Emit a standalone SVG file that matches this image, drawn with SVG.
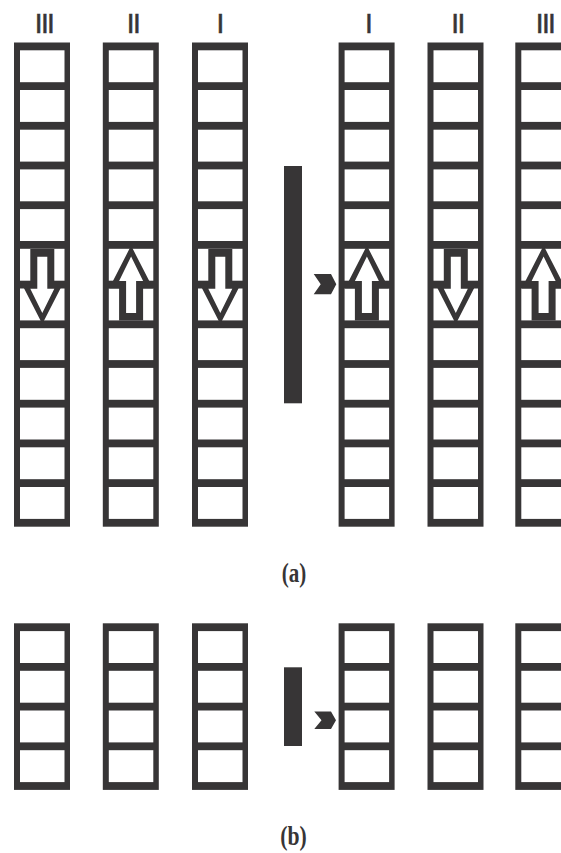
<svg xmlns="http://www.w3.org/2000/svg" xmlns:xlink="http://www.w3.org/1999/xlink" width="561" height="853" viewBox="0 0 561 853">
<style>
.ink{fill:#373536}
.paper{fill:#ffffff}
.num{font-family:"Liberation Sans",Arial,sans-serif;font-size:28px;fill:#373536;stroke:#373536;stroke-width:0.5;text-anchor:middle;letter-spacing:-1.6px}
.cap{font-family:"Liberation Serif","Times New Roman",serif;font-size:27px;font-weight:bold;fill:#373536;text-anchor:middle}
</style>
<defs>
<g id="col12">
<rect class="ink" x="0" y="0" width="56" height="484.2"/>
<rect class="paper" x="6" y="7.8" width="44.5" height="31.9"/>
<rect class="paper" x="6" y="47.5" width="44.5" height="31.9"/>
<rect class="paper" x="6" y="87.2" width="44.5" height="31.9"/>
<rect class="paper" x="6" y="126.9" width="44.5" height="31.9"/>
<rect class="paper" x="6" y="166.6" width="44.5" height="31.9"/>
<rect class="paper" x="6" y="206.3" width="44.5" height="31.9"/>
<rect class="paper" x="6" y="246" width="44.5" height="31.9"/>
<rect class="paper" x="6" y="285.7" width="44.5" height="31.9"/>
<rect class="paper" x="6" y="325.4" width="44.5" height="31.9"/>
<rect class="paper" x="6" y="365.1" width="44.5" height="31.9"/>
<rect class="paper" x="6" y="404.8" width="44.5" height="31.9"/>
<rect class="paper" x="6" y="444.5" width="44.5" height="31.9"/>
</g>
<g id="col4">
<rect class="ink" x="0" y="0" width="56" height="166.6"/>
<rect class="paper" x="6" y="7.8" width="44.5" height="31.9"/>
<rect class="paper" x="6" y="47.5" width="44.5" height="31.9"/>
<rect class="paper" x="6" y="87.2" width="44.5" height="31.9"/>
<rect class="paper" x="6" y="126.9" width="44.5" height="31.9"/>
</g>
<g id="arrowDown">
<polygon class="ink" points="-12,249 12,249 12,281 22,281 0,324 -22,281 -12,281"/>
<polygon class="paper" points="-5,256.7 5,256.7 5,288.7 12,288.7 0,313 -12,288.7 -5,288.7"/>
</g>
<g id="arrowUp">
<polygon class="ink" points="-12,320.6 12,320.6 12,288.6 22,288.6 0,245.6 -22,288.6 -12,288.6"/>
<polygon class="paper" points="-5,312.9 5,312.9 5,280.9 12,280.9 0,256.6 -12,280.9 -5,280.9"/>
</g>
</defs>
<rect x="0" y="0" width="561" height="853" fill="#ffffff"/>

<g id="labels">
<text class="num" x="44" y="33.3">III</text>
<text class="num" x="133" y="33.3">II</text>
<text class="num" x="219.5" y="33.3">I</text>
<text class="num" x="368" y="33.3">I</text>
<text class="num" x="457.5" y="33.3">II</text>
<text class="num" x="545" y="33.3">III</text>
</g>

<g id="a-col-III-left">
<use xlink:href="#col12" href="#col12" transform="translate(14,42.5)"/>
<use xlink:href="#arrowDown" href="#arrowDown" transform="translate(42.3,0)"/>
</g>
<g id="a-col-II-left">
<use xlink:href="#col12" href="#col12" transform="translate(102.8,42.5)"/>
<use xlink:href="#arrowUp" href="#arrowUp" transform="translate(131.1,0)"/>
</g>
<g id="a-col-I-left">
<use xlink:href="#col12" href="#col12" transform="translate(192,42.5)"/>
<use xlink:href="#arrowDown" href="#arrowDown" transform="translate(220.3,0)"/>
</g>
<g id="a-barrier">
<rect class="ink" x="284" y="166" width="18" height="237.3"/>
</g>
<g id="a-col-I-right">
<use xlink:href="#col12" href="#col12" transform="translate(338.6,42.5)"/>
<use xlink:href="#arrowUp" href="#arrowUp" transform="translate(366.9,0)"/>
</g>
<g id="a-col-II-right">
<use xlink:href="#col12" href="#col12" transform="translate(427.5,42.5)"/>
<use xlink:href="#arrowDown" href="#arrowDown" transform="translate(455.8,0)"/>
</g>
<g id="a-col-III-right">
<use xlink:href="#col12" href="#col12" transform="translate(515.3,42.5)"/>
<use xlink:href="#arrowUp" href="#arrowUp" transform="translate(543.6,0)"/>
</g>

<g id="b-col-1"><use xlink:href="#col4" href="#col4" transform="translate(14,623.3)"/></g>
<g id="b-col-2"><use xlink:href="#col4" href="#col4" transform="translate(102.8,623.3)"/></g>
<g id="b-col-3"><use xlink:href="#col4" href="#col4" transform="translate(192,623.3)"/></g>
<g id="b-barrier"><rect class="ink" x="284" y="667.3" width="18" height="78.7"/></g>
<g id="b-col-4"><use xlink:href="#col4" href="#col4" transform="translate(338.6,623.3)"/></g>
<g id="b-col-5"><use xlink:href="#col4" href="#col4" transform="translate(427.5,623.3)"/></g>
<g id="b-col-6"><use xlink:href="#col4" href="#col4" transform="translate(515.3,623.3)"/></g>

<g id="connectors">
<polygon class="ink" points="313.7,274 331,274 336.3,284.2 331,294.3 313.7,294.3 320.7,284.2"/>
<polygon class="ink" points="314.3,711.6 331,711.6 336,720.3 331,729 314.3,729 321.5,720.3"/>
</g>

<g id="captions">
<text class="cap" x="294" y="582" textLength="24.5" lengthAdjust="spacingAndGlyphs">(a)</text>
<text class="cap" x="293.5" y="844.5" textLength="26.5" lengthAdjust="spacingAndGlyphs">(b)</text>
</g>
</svg>
